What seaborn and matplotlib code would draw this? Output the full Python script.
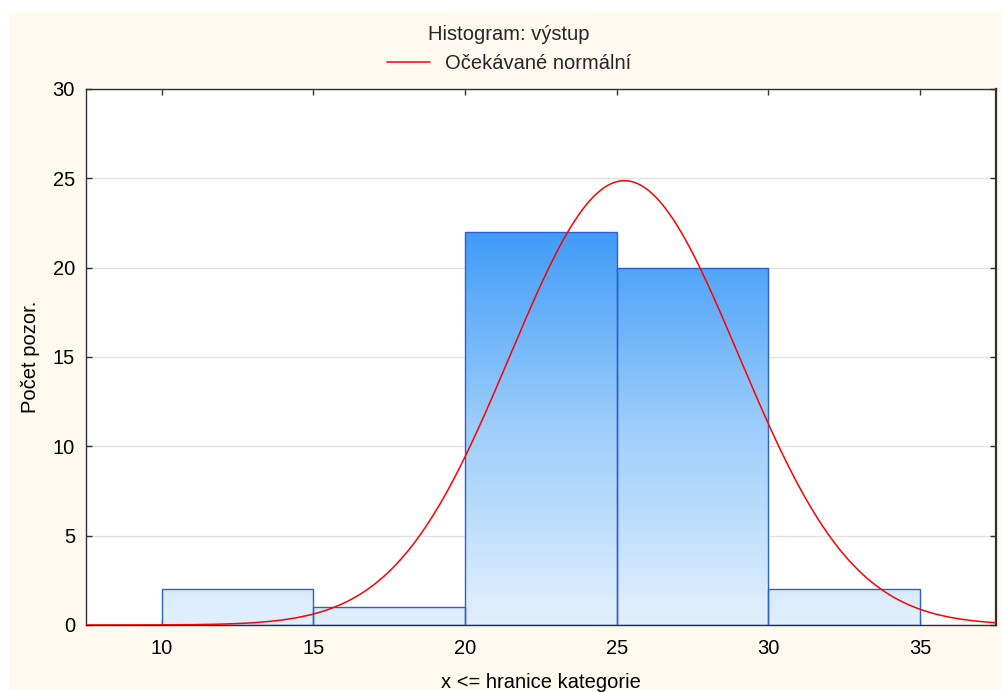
import numpy as np
import pandas as pd
import matplotlib
matplotlib.use("Agg")
import matplotlib.pyplot as plt
from matplotlib.colors import LinearSegmentedColormap
from matplotlib.patches import Rectangle
import seaborn as sns

# Class boundaries and observed counts
bin_edges = [10, 15, 20, 25, 30, 35]
counts = [2, 1, 22, 20, 2]
# Parameters of the fitted normal curve
fit_mean = 25.25
fit_sd = 3.77
n_total = sum(counts)
bin_width = 5

x_ticks = [10, 15, 20, 25, 30, 35]
y_ticks = [0, 5, 10, 15, 20, 25, 30]

title_text = "Histogram: výstup"
legend_text = "Očekávané normální"
x_label = "x <= hranice kategorie"
y_label = "Počet pozor."

FS = 14.5

sns.set_theme(style="white")
plt.rcParams["font.family"] = ["Liberation Sans", "DejaVu Sans"]

fig = plt.figure(figsize=(10.03, 6.92), dpi=100)
fig.patch.set_facecolor("white")
fig.patches.append(Rectangle((9 / 1003, 2 / 692), 1.0, 1 - 14 / 692,
                             transform=fig.transFigure, facecolor="#fefaf0",
                             edgecolor="none", zorder=-10))
ax = fig.add_axes([86 / 1003, 1 - 625 / 692, (996 - 86) / 1003, (625 - 89) / 692])
ax.set_facecolor("white")

centers = [(a + b) / 2 for a, b in zip(bin_edges[:-1], bin_edges[1:])]
df = pd.DataFrame({"hodnota": centers, "pocet": counts})
sns.histplot(data=df, x="hodnota", weights="pocet", bins=bin_edges, ax=ax,
             stat="count", element="bars", fill=True, facecolor="none",
             edgecolor="#2f5fcf", linewidth=1.0, alpha=1, zorder=3)

# Vertical colour ramp filling each bar
cmap = LinearSegmentedColormap.from_list("ramp", ["#e3f0fd", "#9ccdfb", "#3b99f8"])
grad = np.linspace(0, 1, 256).reshape(-1, 1)
for p in list(ax.patches):
    img = ax.imshow(grad, cmap=cmap, origin="lower", aspect="auto",
                    extent=(7.5, 37.5, 0, 22.5), zorder=2, vmin=0, vmax=1)
    img.set_clip_path(p)
    p.set_facecolor("none")
ax.set_xlim(7.5, 37.5)
ax.set_ylim(0, 30)

xs = np.linspace(7.5, 37.5, 600)
expected = n_total * bin_width * np.exp(-0.5 * ((xs - fit_mean) / fit_sd) ** 2) / (fit_sd * np.sqrt(2 * np.pi))
line, = ax.plot(xs, expected, color="#ff0000", linewidth=1.1, zorder=4, label=legend_text)

ax.set_xticks(x_ticks)
ax.set_yticks(y_ticks)
ax.yaxis.grid(True, color="#e2e2e2", linewidth=1.0, zorder=0)
ax.xaxis.grid(False)
ax.set_axisbelow(True)
ax.tick_params(axis="both", direction="in", length=4, width=1, colors="#303030",
               labelcolor="black", labelsize=FS, top=True, right=True, bottom=True, left=True)
ax.tick_params(axis="x", pad=10)
ax.tick_params(axis="y", pad=8)
for s in ax.spines.values():
    s.set_color("#303030")
    s.set_linewidth(1.0)
ax.spines["right"].set_linewidth(1.6)

ax.set_xlabel(x_label, fontsize=FS, labelpad=11, color="black")
ax.set_ylabel(y_label, fontsize=FS, labelpad=9, color="black")

leg = fig.legend(handles=[line], labels=[legend_text], title=title_text, loc="center",
                 bbox_to_anchor=(509 / 1003, 1 - 49 / 692), frameon=False,
                 fontsize=FS, title_fontsize=FS, handlelength=2.1, handletextpad=0.75,
                 borderpad=0.0, labelspacing=0.2)
leg._legend_box.sep = 7

fig.savefig("out.png", dpi=100, facecolor=fig.get_facecolor())
